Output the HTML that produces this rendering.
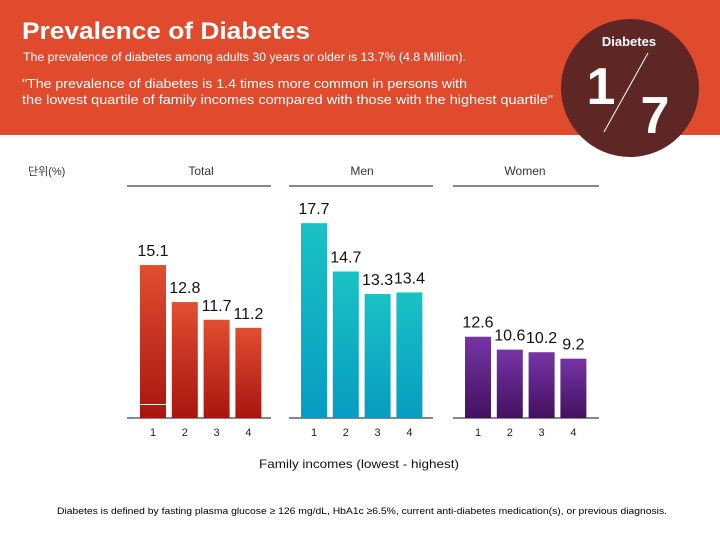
<!DOCTYPE html>
<html><head><meta charset="utf-8"><style>
body{margin:0;width:720px;height:540px;overflow:hidden;background:#fff;font-family:"Liberation Sans","Noto Sans CJK KR",sans-serif;}
svg{display:block}
</style></head><body>
<svg id="c" width="720" height="540">
<defs>
<linearGradient id="gT" x1="0" y1="0" x2="0" y2="1"><stop offset="0" stop-color="#e04e32"/><stop offset="1" stop-color="#a8150f"/></linearGradient>
<linearGradient id="gM" x1="0" y1="0" x2="0" y2="1"><stop offset="0" stop-color="#19c2c4"/><stop offset="1" stop-color="#079cc2"/></linearGradient>
<linearGradient id="gW" x1="0" y1="0" x2="0" y2="1"><stop offset="0" stop-color="#7634a6"/><stop offset="1" stop-color="#43115f"/></linearGradient>
</defs>
<rect x="0" y="0" width="720" height="135" fill="#e04b2e"/>
<text x="22" y="39" font-size="24" font-weight="bold" fill="#fff" textLength="288" lengthAdjust="spacingAndGlyphs">Prevalence of Diabetes</text>
<text x="23" y="61" font-size="11.5" fill="#fff" textLength="443" lengthAdjust="spacingAndGlyphs">The prevalence of diabetes among adults 30 years or older is 13.7% (4.8 Million).</text>
<text x="22" y="88" font-size="12.5" fill="#fff" textLength="445" lengthAdjust="spacingAndGlyphs">"The prevalence of diabetes is 1.4 times more common in persons with</text>
<text x="22" y="104" font-size="12.5" fill="#fff" textLength="531" lengthAdjust="spacingAndGlyphs">the lowest quartile of family incomes compared with those with the highest quartile"</text>
<circle cx="630" cy="88" r="69" fill="#5e2624"/>
<text x="629" y="46" font-size="13" font-weight="bold" fill="#fff" text-anchor="middle">Diabetes</text>
<text x="601" y="104" font-size="52" font-weight="bold" fill="#fff" text-anchor="middle">1</text>
<line x1="648" y1="53" x2="604" y2="132" stroke="#fff" stroke-width="1"/>
<text x="655" y="133" font-size="52" font-weight="bold" fill="#fff" text-anchor="middle">7</text>
<text x="28" y="175" font-size="11" fill="#333">단위(%)</text>
<text x="362" y="514" font-size="9.5" fill="#000" text-anchor="middle" textLength="610" lengthAdjust="spacingAndGlyphs">Diabetes is defined by fasting plasma glucose ≥ 126 mg/dL, HbA1c ≥6.5%, current anti-diabetes medication(s), or previous diagnosis.</text>
<text x="359" y="468" font-size="12" fill="#111" text-anchor="middle" textLength="200" lengthAdjust="spacingAndGlyphs">Family incomes (lowest - highest)</text>
<g id="charts"></g>
</svg>
<script>
const panelNames=["Total","Men","Women"];
const quartiles=["1","2","3","4"];
const totalVals=[15.1,12.8,11.7,11.2];
const menVals=[17.7,14.7,13.3,13.4];
const womenVals=[12.6,10.6,10.2,9.2];
const NS="http://www.w3.org/2000/svg";
const g=document.getElementById('charts');
const base=418;
const panels=[
 {vals:totalVals,left:127,right:271,x0:140,fill:"url(#gT)",scaleA:16.1,scaleB:5.6,key:"total",hx:201},
 {vals:menVals,left:289,right:433,x0:301,fill:"url(#gM)",scaleA:16.1,scaleB:5.6,key:"men",hx:362},
 {vals:womenVals,left:453,right:599,x0:465,fill:"url(#gW)",scaleA:6.45,scaleB:0,key:"women",hx:525}
];
function el(t,a){const e=document.createElementNS(NS,t);for(const k in a)e.setAttribute(k,a[k]);g.appendChild(e);return e;}
function yPix(p,v){return base-p.scaleA*(v-p.scaleB);}
panels.forEach((p,pi)=>{
 const h=el('text',{x:p.hx,y:175,'font-size':12,fill:'#333','text-anchor':'middle'});
 
 
 h.textContent=panelNames[pi];
 const hl=el('line',{x1:p.left,x2:p.right,y1:186,y2:186,stroke:'#111','stroke-width':1});
 
 
 const ax=el('line',{x1:p.left,x2:p.right,y1:base,y2:base,stroke:'#111','stroke-width':1});
 
 
 p.vals.forEach((v,i)=>{
  const x=p.x0+i*31.8, w=26, y=yPix(p,v);
  const r=el('rect',{x:x,y:y,width:w,height:base-y,fill:p.fill});
  
  
  const t=el('text',{x:x+w/2,y:y-9,'font-size':16,fill:'#111','text-anchor':'middle'});
  
  
  t.textContent=v.toFixed(1);
  const tk=el('text',{x:x+w/2,y:436,'font-size':11,fill:'#222','text-anchor':'middle'});
  
  
  tk.textContent=quartiles[i];
 });
});
const wl=el('line',{x1:140,x2:166,y1:404.5,y2:404.5,stroke:'#fff','stroke-width':1});


</script>
</body></html>
